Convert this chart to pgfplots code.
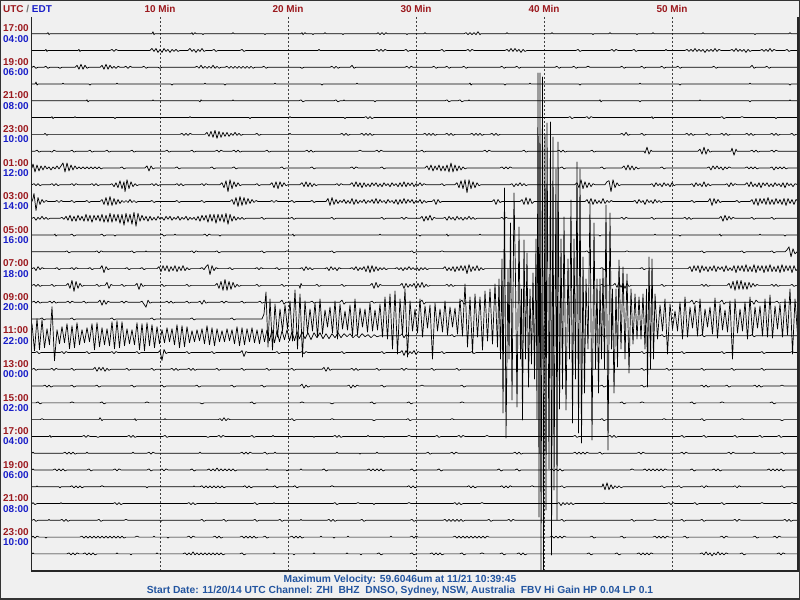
\documentclass[border=0pt]{standalone}
\usepackage{fontspec}
\setmainfont{Liberation Sans}
\usepackage{pgfplots}
\pgfplotsset{compat=1.18}
\definecolor{bgc}{RGB}{240,240,240}
\definecolor{utcred}{RGB}{155,25,30}
\definecolor{edtblue}{RGB}{25,30,200}
\definecolor{infoblue}{RGB}{35,85,160}
\newcommand{\tr}[2]{\addplot[black,line width=0.7bp,line join=round,mark=none] table[row sep=\\,y expr=\thisrowno{1}+33.7+16.78*#1]{#2\\};}
\tikzset{
 utcl/.style={font=\bfseries\fontsize{10}{10}\selectfont,text=utcred,anchor=base west,inner sep=0pt},
 edtl/.style={font=\bfseries\fontsize{10}{10}\selectfont,text=edtblue,anchor=base west,inner sep=0pt},
 minl/.style={font=\bfseries\fontsize{10}{10}\selectfont,text=utcred,anchor=base,inner sep=0pt},
 infol/.style={font=\bfseries\fontsize{10.3}{10}\selectfont,text=infoblue,anchor=base,inner sep=0pt},
 grd/.style={black!75,line width=0.8bp,dash pattern=on 2bp off 2bp}}
\begin{document}
\begin{tikzpicture}[x=1bp,y=1bp]
\useasboundingbox (0,0) rectangle (800,600);
\fill[bgc] (0,0) rectangle (800,600);
\begin{axis}[at={(0,0)},anchor=south west,scale only axis,width=800bp,height=600bp,
  xmin=0,xmax=800,ymin=0,ymax=600,y dir=reverse,hide axis]
\draw[grd] (160,17) -- (160,570);
\draw[grd] (288,17) -- (288,570);
\draw[grd] (416,17) -- (416,570);
\draw[grd] (544,17) -- (544,570);
\draw[grd] (672,17) -- (672,570);
% trace 0
\tr{0}{32 0\\47 0\\48 -1\\49 1\\50 0\\152 0\\153 -2\\154 1\\155 0\\191 0\\192 -1\\193 1\\195 -1\\196 0\\202 0\\203 1\\204 0\\232 0\\233 -1\\234 0\\264 0\\265 1\\266 0\\301 0\\302 -1\\303 1\\305 -1\\306 0\\312 0\\313 1\\314 0\\324 0\\325 -1\\326 0\\342 0\\343 1\\344 0\\377 0\\378 -1\\380 1\\382 -1\\384 1\\386 -1\\387 0\\406 0\\407 1\\408 0\\424 0\\425 -1\\426 0\\464 0\\466 -1\\468 1\\470 -1\\472 1\\474 -1\\476 1\\478 -2\\480 1\\481 0\\506 0\\507 -1\\508 0\\551 0\\552 -1\\553 0\\592 0\\593 1\\594 0\\609 0\\610 -1\\611 0\\636 0\\637 1\\638 0\\652 0\\653 -1\\654 0\\702 0\\703 -1\\704 0\\754 0\\755 1\\756 0\\789 0\\790 -1\\791 0\\798 0}
% trace 1
\tr{1}{32 0\\45 0\\46 -1\\47 1\\48 0\\78 0\\79 -1\\80 1\\81 0\\110 0\\112 -1\\114 1\\116 -1\\118 0\\150 0\\152 -2\\154 1\\156 -2\\158 2\\160 -1\\162 2\\164 -2\\166 1\\168 -1\\170 2\\172 -1\\174 1\\176 -1\\178 1\\180 0\\188 0\\190 -2\\192 1\\194 -1\\196 2\\198 -1\\200 1\\202 -2\\204 1\\206 0\\212 0\\214 -1\\216 1\\218 0\\240 0\\242 -1\\244 1\\246 0\\318 0\\319 -1\\320 0\\375 0\\377 -1\\379 1\\381 -1\\383 1\\385 -1\\387 0\\404 0\\406 -1\\408 1\\410 0\\440 0\\442 -1\\444 1\\446 0\\466 0\\468 -1\\470 1\\472 -1\\474 0\\505 0\\507 -1\\509 1\\511 -2\\513 1\\515 -2\\517 1\\519 -1\\521 2\\523 -1\\525 1\\527 0\\576 0\\578 -1\\580 1\\582 0\\610 0\\612 -1\\614 1\\616 -1\\618 0\\632 0\\634 -1\\636 1\\638 0\\665 0\\666 -1\\667 0\\685 0\\687 -1\\689 1\\691 -1\\693 1\\695 -2\\697 1\\699 -1\\701 1\\703 -1\\705 2\\707 -1\\709 1\\711 -1\\713 1\\715 -2\\717 1\\719 -1\\721 0\\730 0\\732 -1\\734 1\\736 -2\\738 1\\740 -1\\742 1\\744 -1\\746 2\\748 -1\\750 1\\752 0\\760 0\\762 -1\\764 1\\766 -1\\768 1\\770 -2\\772 1\\774 -1\\776 0\\785 0\\787 -1\\789 1\\791 0\\798 0}
% trace 2
\tr{2}{32 0\\34 -1\\36 1\\38 0\\44 0\\46 -1\\48 1\\50 0\\58 0\\60 1\\62 0\\75 0\\77 -2\\79 2\\81 -3\\83 2\\85 -2\\87 1\\89 0\\100 0\\102 -2\\104 2\\106 -3\\108 2\\110 -2\\112 1\\114 -1\\116 1\\118 -1\\120 0\\124 0\\126 -1\\128 1\\130 -1\\132 0\\142 0\\144 -1\\146 1\\148 0\\158 0\\160 1\\162 0\\195 0\\197 -1\\199 1\\201 -2\\203 1\\205 -1\\207 1\\209 -1\\211 1\\213 -2\\215 1\\217 -1\\219 1\\221 0\\225 0\\227 -1\\229 1\\231 -1\\233 1\\235 -1\\237 1\\239 -1\\241 1\\243 -1\\245 1\\247 -1\\249 1\\251 -1\\253 1\\255 0\\262 0\\264 -1\\266 1\\268 0\\300 0\\302 1\\304 0\\330 0\\332 -1\\334 1\\336 -1\\338 1\\340 0\\350 0\\352 -2\\354 1\\356 0\\405 0\\407 -1\\409 1\\411 -1\\413 0\\432 0\\434 -1\\436 1\\438 0\\445 0\\447 -1\\449 1\\451 0\\462 0\\464 -1\\466 1\\468 0\\500 0\\502 -1\\504 1\\506 0\\515 0\\517 -1\\519 1\\521 0\\555 0\\557 -1\\559 1\\561 0\\572 0\\574 -1\\576 1\\578 0\\586 0\\588 -1\\590 0\\620 0\\622 -1\\624 1\\626 0\\640 0\\642 -1\\644 1\\646 0\\660 0\\662 -1\\664 1\\666 0\\676 0\\678 -1\\680 1\\682 0\\712 0\\714 -1\\716 1\\718 0\\750 0\\752 -2\\754 1\\756 0\\765 0\\767 -1\\769 1\\771 0\\798 0}
% trace 3
\tr{3}{32 0\\35 0\\36 -2\\37 1\\38 0\\62 0\\63 -1\\64 0\\89 0\\90 1\\91 0\\116 0\\117 -1\\118 0\\171 0\\172 1\\173 0\\204 0\\205 -1\\206 0\\224 0\\225 1\\226 0\\274 0\\275 -1\\276 0\\321 0\\322 1\\323 0\\356 0\\357 -1\\358 0\\469 0\\470 -1\\471 1\\472 0\\504 0\\505 1\\506 0\\529 0\\530 -1\\531 0\\579 0\\580 1\\581 0\\639 0\\640 -1\\641 0\\679 0\\680 1\\681 0\\749 0\\750 -1\\751 0\\789 0\\790 1\\791 0\\798 0}
% trace 4
\tr{4}{32 0\\86 0\\87 -1\\88 1\\89 0\\152 0\\153 -1\\154 0\\199 0\\200 1\\201 -1\\202 0\\232 0\\233 -1\\234 0\\299 0\\301 -1\\303 1\\305 0\\334 0\\336 -1\\338 1\\340 0\\343 0\\344 -1\\345 0\\374 0\\375 1\\376 0\\445 0\\447 -1\\449 1\\451 0\\458 0\\460 -1\\462 1\\464 0\\468 0\\469 -1\\470 0\\599 0\\600 -1\\601 1\\602 0\\639 0\\640 1\\641 0\\699 0\\700 -1\\701 0\\749 0\\750 1\\751 0\\789 0\\790 -1\\791 0\\798 0}
% trace 5
\tr{5}{32 0\\51 0\\52 -1\\53 1\\54 0\\74 0\\75 -1\\76 0\\114 0\\115 1\\116 0\\189 0\\190 -1\\191 0\\249 0\\250 1\\251 0\\289 0\\290 -1\\291 0\\344 0\\345 1\\346 0\\364 0\\366 -1\\368 1\\370 -1\\372 1\\374 0\\568 0\\570 -1\\572 1\\574 0\\585 0\\587 -1\\589 1\\591 -1\\593 0\\651 0\\652 -1\\653 1\\654 0\\720 0\\722 -1\\724 1\\726 0\\740 0\\742 -1\\744 0\\775 0\\776 1\\777 0\\798 0}
% trace 6
\tr{6}{32 0\\44 0\\45 -1\\47 1\\48 0\\180 0\\182 -1\\184 1\\186 -1\\188 1\\190 -1\\192 0\\205 0\\207 -2\\209 2\\211 -3\\213 3\\215 -4\\217 4\\219 -3\\221 3\\223 -2\\225 2\\227 -2\\229 2\\231 -1\\233 1\\235 -2\\237 1\\239 -1\\241 1\\243 0\\255 0\\257 -1\\259 1\\261 0\\289 0\\290 -1\\291 0\\340 0\\342 -1\\344 1\\346 -1\\348 1\\350 0\\360 0\\362 -1\\364 1\\366 -1\\368 1\\370 -1\\372 1\\374 0\\423 0\\425 -1\\427 1\\429 -1\\431 1\\433 -1\\435 1\\437 0\\445 0\\447 -1\\449 1\\451 -1\\453 1\\455 0\\470 0\\472 -1\\474 1\\476 -1\\478 1\\480 -1\\482 1\\484 0\\490 0\\492 -1\\494 1\\496 -1\\498 1\\500 0\\620 0\\622 -1\\624 1\\626 -2\\628 1\\630 0\\640 0\\642 -1\\644 1\\646 0\\685 0\\687 -1\\689 1\\691 -1\\693 1\\695 0\\705 0\\707 -1\\709 1\\711 0\\720 0\\722 -1\\724 1\\726 -1\\728 1\\730 0\\745 0\\747 -1\\749 1\\751 -1\\753 1\\755 0\\770 0\\772 -1\\774 1\\776 -1\\778 1\\780 0\\790 0\\792 -1\\794 1\\796 0\\798 0}
% trace 7
\tr{7}{32 0\\35 0\\37 -1\\39 1\\41 0\\50 0\\52 1\\54 -1\\56 0\\70 0\\72 -1\\74 1\\76 0\\88 0\\90 -1\\92 1\\94 0\\105 0\\107 -1\\109 1\\111 0\\130 0\\132 -1\\134 1\\136 0\\165 0\\167 -1\\169 1\\171 0\\190 0\\192 -1\\194 1\\196 0\\215 0\\217 -1\\219 1\\221 -1\\223 0\\232 0\\234 -1\\236 1\\238 -1\\240 1\\242 0\\265 0\\267 -1\\269 1\\271 0\\305 0\\307 -1\\309 1\\311 -1\\313 1\\315 0\\358 0\\360 -1\\362 0\\375 0\\377 -1\\379 1\\381 -1\\383 0\\420 0\\422 -1\\424 1\\426 0\\483 0\\485 -1\\487 1\\489 -1\\491 0\\522 0\\524 -1\\526 1\\528 0\\557 0\\559 -1\\561 1\\563 -1\\565 1\\567 0\\590 0\\592 -1\\594 1\\596 0\\644 0\\645 2\\647 -4\\649 3\\651 -1\\652 0\\698 0\\700 -2\\702 3\\704 -4\\706 3\\708 -2\\710 1\\712 0\\731 0\\732 -3\\734 4\\736 -2\\737 0\\750 0\\752 -1\\754 1\\756 -1\\758 1\\760 0\\770 0\\772 -1\\774 1\\776 -1\\778 0\\798 0}
% trace 8
\tr{8}{32 0\\33 -4\\35 4\\37 -3\\39 3\\41 -2\\43 2\\45 -2\\47 1\\49 -1\\51 2\\53 -1\\55 1\\57 -2\\59 1\\61 -2\\63 -5\\65 4\\67 -5\\69 3\\71 -3\\73 2\\75 -2\\77 1\\79 -1\\81 1\\83 -1\\85 1\\87 -1\\89 1\\91 -1\\93 1\\95 -1\\97 1\\99 -1\\101 1\\103 0\\120 0\\122 -1\\124 1\\126 0\\145 0\\147 -2\\149 3\\151 -2\\153 1\\155 0\\175 0\\177 -1\\179 1\\181 0\\210 0\\212 -1\\214 1\\216 0\\232 0\\234 -1\\236 1\\238 0\\280 0\\282 -1\\284 1\\286 0\\310 0\\312 -1\\314 1\\316 0\\350 0\\352 -1\\354 1\\356 -1\\358 0\\380 0\\382 -1\\384 1\\386 0\\425 0\\427 -2\\429 2\\431 -3\\433 3\\435 -2\\437 2\\439 -3\\441 3\\443 -2\\445 3\\447 -3\\449 4\\451 -5\\453 4\\455 -3\\457 3\\459 -2\\461 2\\463 -1\\465 1\\467 0\\500 0\\502 -1\\504 1\\506 -1\\508 1\\510 -1\\512 0\\560 0\\562 -1\\564 1\\566 0\\600 0\\602 -1\\604 1\\606 0\\622 0\\624 -2\\626 2\\628 -3\\630 2\\632 -2\\634 2\\636 -1\\638 1\\640 0\\660 0\\662 -1\\664 1\\666 0\\707 0\\709 -1\\711 2\\713 -2\\715 1\\717 -2\\719 1\\721 -1\\723 2\\725 -1\\727 1\\729 -1\\731 0\\745 0\\747 -1\\749 1\\751 -1\\753 1\\755 -1\\757 1\\759 0\\770 0\\772 -1\\774 2\\776 -1\\778 1\\780 -1\\782 1\\784 -1\\786 1\\788 0\\798 0}
% trace 9
\tr{9}{32 0\\34 -1\\36 1\\38 -1\\40 1\\42 0\\50 0\\52 -1\\54 1\\56 -1\\58 1\\60 0\\70 0\\72 -1\\74 1\\76 -1\\78 0\\90 0\\92 -1\\94 1\\96 -1\\98 1\\100 0\\110 0\\112 -1\\114 2\\116 -2\\118 3\\120 -4\\122 4\\124 -3\\125 7\\127 -5\\129 4\\131 -3\\133 2\\135 -1\\137 1\\139 0\\150 0\\152 -1\\154 1\\156 -1\\158 1\\160 0\\175 0\\177 -1\\179 1\\181 -1\\183 1\\185 0\\200 0\\202 -1\\204 1\\206 -1\\208 0\\220 0\\222 -2\\224 3\\226 -4\\228 7\\230 -5\\232 4\\234 -3\\236 2\\238 -2\\240 1\\242 0\\255 0\\257 -1\\259 1\\261 0\\270 0\\272 -2\\274 3\\276 -3\\278 4\\280 -3\\282 2\\284 -2\\286 1\\288 0\\300 0\\302 -2\\304 2\\306 -3\\308 2\\310 -2\\312 2\\314 -1\\316 1\\318 0\\335 0\\337 -1\\339 1\\341 -1\\343 0\\350 0\\352 -2\\354 2\\356 -3\\358 2\\360 -2\\362 3\\364 -2\\366 2\\368 -1\\370 2\\372 -2\\374 1\\376 -2\\378 2\\380 -1\\382 2\\384 -2\\386 1\\388 -1\\390 2\\392 -2\\394 1\\396 -1\\398 2\\400 -2\\402 2\\404 -3\\406 2\\408 -2\\410 1\\412 -2\\414 2\\416 -1\\418 1\\420 -2\\422 1\\424 -1\\426 0\\440 0\\442 -1\\444 1\\446 0\\455 0\\457 -2\\459 3\\461 -4\\463 4\\465 -5\\467 8\\469 -5\\471 4\\473 -3\\475 3\\477 -2\\479 1\\481 0\\510 0\\512 -1\\514 2\\516 -1\\518 1\\520 -2\\522 1\\524 -1\\526 1\\528 0\\575 0\\577 -2\\579 3\\581 -5\\583 4\\585 -3\\587 3\\589 -2\\591 2\\593 -1\\595 0\\605 0\\607 -3\\609 -4\\611 7\\613 -5\\615 3\\617 -2\\619 1\\621 0\\650 0\\652 -1\\654 2\\656 -2\\658 1\\660 -1\\662 2\\664 -2\\666 1\\668 -1\\670 2\\672 -2\\674 1\\676 0\\690 0\\692 -1\\694 2\\696 -2\\698 1\\700 -1\\702 2\\704 -3\\706 2\\708 -1\\710 1\\712 0\\725 0\\727 -1\\729 2\\731 -2\\733 1\\735 -1\\737 0\\745 0\\747 -2\\749 2\\751 -3\\753 2\\755 -1\\757 2\\759 -2\\761 3\\763 -2\\765 1\\767 -2\\769 2\\771 -1\\773 2\\775 -2\\777 1\\779 -1\\781 2\\783 -2\\785 3\\787 -2\\789 1\\791 -1\\793 2\\795 -1\\798 0}
% trace 10
\tr{10}{32 0\\33 -3\\34 -8\\36 9\\38 -4\\40 3\\42 -2\\44 1\\46 -1\\48 0\\55 0\\57 -1\\59 1\\61 -1\\63 0\\70 0\\72 -1\\74 1\\76 0\\85 0\\87 -1\\89 1\\91 0\\100 0\\102 -2\\104 3\\106 -4\\108 4\\110 -5\\112 4\\114 -3\\116 3\\118 -2\\120 2\\122 -1\\124 1\\126 -1\\128 1\\130 -2\\132 1\\134 -1\\136 1\\138 0\\150 0\\152 -1\\154 1\\156 0\\175 0\\177 -1\\179 1\\181 0\\200 0\\202 -1\\204 1\\206 0\\230 0\\232 -2\\234 3\\236 -4\\238 5\\240 -5\\242 4\\244 -4\\246 3\\248 -3\\250 2\\252 -2\\254 1\\256 -1\\258 0\\270 0\\272 -1\\274 1\\276 -1\\278 0\\290 0\\292 -1\\294 1\\296 0\\310 0\\312 -1\\314 1\\316 0\\326 0\\328 -3\\330 4\\332 -4\\334 3\\336 -2\\338 2\\340 -1\\342 1\\344 -2\\346 2\\348 -1\\350 2\\352 -3\\354 3\\356 -2\\358 2\\360 -1\\362 1\\364 -2\\366 2\\368 -1\\370 1\\372 -2\\374 2\\376 -3\\378 2\\380 -2\\382 1\\384 -1\\386 2\\388 -2\\390 1\\392 -1\\394 2\\396 -2\\398 3\\400 -2\\402 2\\404 -3\\406 2\\408 -2\\410 1\\412 -2\\414 2\\416 -1\\418 1\\420 -2\\422 2\\424 -1\\426 1\\428 0\\432 0\\434 -2\\436 3\\438 -2\\440 1\\442 0\\492 0\\494 -2\\496 3\\498 -2\\500 1\\502 0\\520 0\\522 -2\\524 3\\526 -4\\528 3\\530 -3\\532 2\\534 0\\585 0\\587 -2\\589 2\\591 -3\\593 3\\595 -2\\597 2\\599 -1\\601 2\\603 -3\\605 2\\607 -1\\609 1\\611 -1\\613 0\\633 0\\635 -1\\637 2\\639 -2\\641 1\\643 -1\\645 3\\647 -2\\649 1\\651 -1\\653 2\\655 -2\\657 1\\659 -1\\661 1\\663 0\\690 0\\692 -1\\694 1\\696 0\\708 0\\710 -3\\712 4\\714 -3\\716 2\\718 -2\\720 1\\722 0\\735 0\\737 -1\\739 1\\741 0\\750 0\\752 -2\\754 3\\756 -3\\758 4\\760 -3\\762 2\\764 -3\\766 3\\768 -4\\770 3\\772 -2\\774 3\\776 -3\\778 2\\780 -2\\782 3\\784 -3\\786 4\\788 -3\\790 2\\792 -2\\794 3\\796 -2\\798 0}
% trace 11
\tr{11}{32 0\\34 -1\\36 2\\38 -1\\40 1\\42 -2\\44 1\\46 -1\\48 1\\50 0\\60 0\\62 -1\\64 1\\66 -2\\68 2\\70 -3\\72 3\\74 -2\\76 3\\78 -3\\80 2\\82 -2\\84 3\\86 -4\\88 3\\90 -3\\92 4\\94 -3\\96 2\\98 -3\\100 3\\102 -4\\104 4\\106 -3\\108 4\\110 -5\\112 4\\114 -4\\116 3\\118 -4\\120 5\\122 -4\\124 7\\126 -5\\128 4\\130 -4\\132 6\\134 -6\\136 8\\138 -5\\140 3\\142 -3\\144 2\\146 -2\\148 3\\150 -2\\152 2\\154 -1\\156 2\\158 -2\\160 1\\162 -1\\164 2\\166 -2\\168 1\\170 -2\\172 2\\174 -1\\176 1\\178 -2\\180 2\\182 -1\\184 1\\186 -2\\188 2\\190 -1\\192 1\\194 -1\\196 2\\198 -2\\200 3\\202 -3\\204 2\\206 -3\\208 4\\210 -4\\212 3\\214 -4\\216 5\\218 -4\\220 3\\222 -4\\224 4\\226 -5\\228 6\\230 -4\\232 3\\234 -2\\236 2\\238 -1\\240 1\\242 -1\\244 1\\246 0\\260 0\\262 -1\\264 1\\266 0\\290 0\\292 -1\\294 1\\296 0\\330 0\\332 -1\\334 1\\336 0\\380 0\\382 -1\\384 1\\386 0\\400 0\\402 -1\\404 1\\406 -1\\408 0\\420 0\\422 -2\\424 3\\426 -2\\428 2\\430 -3\\432 2\\434 -1\\436 0\\443 0\\445 -1\\447 2\\449 -2\\451 1\\453 -1\\455 2\\457 -2\\459 1\\461 -1\\463 2\\465 -1\\467 1\\469 -2\\471 1\\473 -1\\475 1\\477 0\\500 0\\502 -1\\504 1\\506 -1\\508 0\\620 0\\622 -1\\624 1\\626 -1\\628 0\\650 0\\652 -1\\654 1\\656 0\\683 0\\685 -1\\687 1\\689 -1\\691 1\\693 0\\719 0\\721 -2\\723 3\\725 -3\\727 2\\729 -2\\731 1\\733 -1\\735 0\\750 0\\752 -1\\754 1\\756 0\\770 0\\772 -1\\774 1\\776 0\\798 0}
% trace 12
\tr{12}{32 0\\54 0\\55 -1\\56 1\\57 0\\70 0\\72 -1\\74 1\\76 0\\100 0\\102 -1\\104 1\\106 0\\114 0\\115 1\\116 0\\160 0\\162 -1\\164 1\\166 0\\174 0\\175 -1\\176 0\\203 0\\205 -1\\207 1\\209 -1\\211 0\\219 0\\220 1\\221 0\\292 0\\293 -1\\294 1\\295 0\\379 0\\380 -1\\381 0\\419 0\\420 1\\421 0\\446 0\\447 -1\\448 1\\449 0\\479 0\\480 -1\\481 0\\599 0\\600 1\\601 0\\654 0\\655 -1\\656 0\\679 0\\680 1\\681 0\\719 0\\720 -1\\721 1\\722 0\\759 0\\760 -1\\761 0\\784 0\\785 1\\786 0\\798 0}
% trace 13
\tr{13}{32 0\\65 0\\67 -1\\69 1\\71 0\\95 0\\97 -1\\99 1\\101 -1\\103 0\\130 0\\132 -1\\134 1\\136 0\\145 0\\146 -1\\147 0\\190 0\\192 -1\\194 1\\196 -1\\198 0\\215 0\\217 -1\\219 1\\221 0\\260 0\\262 -1\\264 1\\266 0\\285 0\\287 -1\\289 0\\330 0\\332 -1\\334 1\\336 0\\410 0\\412 -1\\414 1\\416 0\\440 0\\442 -1\\444 0\\585 0\\587 -1\\589 1\\591 0\\625 0\\627 -1\\629 0\\700 0\\702 -1\\704 1\\706 0\\740 0\\742 -1\\744 1\\746 0\\770 0\\772 -1\\774 1\\776 0\\785 0\\787 -2\\789 -5\\791 5\\793 -3\\795 2\\797 0\\798 0}
% trace 14
\tr{14}{32 0\\34 -1\\36 2\\38 -2\\40 1\\42 -1\\44 0\\55 0\\57 -1\\59 1\\61 0\\70 0\\72 -1\\74 1\\76 -1\\78 0\\88 0\\90 -1\\92 1\\94 0\\100 0\\102 -3\\104 4\\106 -2\\108 1\\110 0\\125 0\\127 -1\\129 1\\131 0\\140 0\\142 -1\\144 1\\146 0\\157 0\\159 -2\\161 3\\163 -3\\165 2\\167 -3\\169 3\\171 -2\\173 2\\175 -3\\177 3\\179 -2\\181 2\\183 -3\\185 2\\187 -1\\189 1\\191 0\\200 0\\202 -1\\204 1\\206 -2\\208 -4\\210 6\\212 -3\\214 2\\216 -1\\218 0\\228 0\\230 -1\\232 1\\234 0\\255 0\\257 -1\\259 1\\261 -1\\263 0\\275 0\\277 -1\\279 1\\281 0\\300 0\\302 -1\\304 2\\306 -2\\308 1\\310 -1\\312 1\\314 0\\325 0\\327 -1\\329 2\\331 -2\\333 1\\335 -1\\337 2\\339 -1\\341 0\\350 0\\352 -1\\354 1\\356 -2\\358 2\\360 -1\\362 1\\364 -2\\366 3\\368 -3\\370 4\\372 -3\\374 3\\376 -2\\378 2\\380 -1\\382 1\\384 -1\\386 1\\388 0\\395 0\\397 -1\\399 1\\401 -1\\403 2\\405 -1\\407 1\\409 -2\\411 1\\413 -1\\415 1\\417 -1\\419 2\\421 -1\\423 1\\425 -1\\427 1\\429 0\\443 0\\445 -2\\447 2\\449 -1\\451 2\\453 -2\\455 3\\457 -2\\459 2\\461 -3\\463 2\\465 -3\\467 5\\469 -4\\471 3\\473 -2\\475 2\\477 -3\\479 2\\481 -1\\483 1\\485 0\\600 0\\602 -1\\604 1\\606 0\\640 0\\642 -1\\644 1\\646 0\\688 0\\690 -2\\692 3\\694 -3\\696 2\\698 -3\\700 4\\702 -3\\704 2\\706 -2\\708 3\\710 -2\\712 2\\714 -3\\716 3\\718 -2\\720 1\\722 -2\\724 3\\726 -3\\728 2\\730 -1\\732 2\\734 -3\\736 4\\738 -3\\740 2\\742 -3\\744 3\\746 -4\\748 3\\750 -2\\752 3\\754 -4\\756 4\\758 -3\\760 2\\762 -3\\764 4\\766 -3\\768 3\\770 -4\\772 3\\774 -2\\776 3\\778 -3\\780 4\\782 -4\\784 3\\786 -3\\788 2\\790 -3\\792 4\\794 -3\\796 2\\798 0}
% trace 15
\tr{15}{32 0\\34 -1\\36 1\\38 -1\\40 1\\42 0\\50 0\\52 -1\\54 1\\56 0\\66 0\\68 -2\\70 3\\72 -5\\74 6\\76 -4\\78 3\\80 -2\\82 1\\84 0\\95 0\\97 -1\\99 1\\101 0\\105 0\\107 -3\\109 3\\111 -1\\113 0\\120 0\\122 -1\\124 1\\126 0\\135 0\\137 -2\\139 4\\141 -2\\143 1\\145 0\\160 0\\162 -1\\164 1\\166 0\\185 0\\187 -1\\189 1\\191 0\\215 0\\217 -2\\219 3\\221 -4\\223 5\\225 -6\\227 5\\229 -4\\231 4\\233 -3\\235 2\\237 -1\\239 1\\241 0\\255 0\\257 -1\\259 1\\261 0\\280 0\\282 -1\\284 1\\286 0\\299 0\\300 3\\301 -2\\302 0\\315 0\\317 -1\\319 1\\321 0\\340 0\\342 -1\\344 1\\346 0\\370 0\\372 -2\\374 3\\376 -3\\378 2\\380 -1\\382 0\\400 0\\402 -2\\404 3\\406 -2\\408 2\\410 -1\\412 1\\414 -2\\416 3\\418 -2\\420 2\\422 -3\\424 2\\426 -1\\428 1\\430 0\\445 0\\447 -1\\449 1\\451 -1\\453 1\\455 0\\600 0\\602 -1\\604 1\\606 0\\613 0\\615 -2\\617 2\\619 -3\\621 2\\623 -2\\625 3\\627 -2\\629 1\\631 0\\660 0\\662 -1\\664 1\\666 0\\700 0\\702 -1\\704 1\\706 -1\\708 1\\710 0\\727 0\\729 -2\\731 3\\733 -4\\735 5\\737 -5\\739 4\\741 -5\\743 4\\745 -3\\747 4\\749 -3\\751 2\\753 -2\\755 1\\757 -1\\759 0\\770 0\\772 -1\\774 1\\776 -1\\778 1\\780 0\\790 0\\792 -1\\794 1\\796 0\\798 0}
% trace 16
\tr{16}{32 0\\34 -1\\36 1\\38 -1\\40 1\\42 0\\48 0\\50 -1\\52 1\\54 -1\\56 1\\58 0\\66 0\\68 -1\\70 1\\72 -1\\74 0\\82 0\\84 -1\\86 1\\88 0\\98 0\\100 -2\\102 3\\104 -2\\106 2\\108 -1\\110 0\\120 0\\122 -1\\124 1\\126 -1\\128 0\\140 0\\142 -1\\144 2\\146 5\\148 -2\\150 1\\152 0\\165 0\\167 -1\\169 1\\171 -1\\173 1\\175 0\\185 0\\187 -1\\189 1\\191 0\\198 0\\200 -1\\202 2\\204 -2\\206 1\\208 0\\220 0\\222 -1\\224 1\\226 -1\\228 0\\240 0\\242 -1\\244 1\\246 0\\258 0\\260 -1\\262 1\\264 0\\280 0\\282 -2\\284 2\\286 0\\310 0\\312 -1\\314 1\\316 0\\340 0\\342 -2\\344 2\\346 0\\370 0\\372 -1\\374 1\\376 0\\420 0\\422 -2\\424 2\\426 0\\460 0\\462 -2\\464 2\\466 0\\690 0\\692 -2\\694 2\\696 -1\\698 0\\720 0\\722 -2\\724 2\\726 0\\750 0\\752 -1\\754 2\\756 -2\\758 0\\775 0\\777 -1\\779 1\\781 0\\798 0}
% trace 17 (event)
\tr{17}{32 0\\40 0\\42 -1\\44 1\\46 0\\70 0\\72 -1\\74 1\\76 0\\110 0\\112 -1\\114 1\\116 0\\150 0\\152 -1\\154 1\\156 0\\190 0\\192 -1\\194 1\\196 0\\230 0\\232 -1\\234 1\\236 0\\262 0\\264 -5\\266 -27\\268 28\\270 -20\\272.5 31\\275 -15\\277.5 18\\280 -10\\282.5 12\\285 -14\\287.5 10\\290 -18\\292.5 22\\295 -29\\297.5 30\\300 -25\\302.5 38\\305 -18\\307.5 14\\310 -10\\312.5 12\\315 -16\\317.5 18\\320 -20\\322.5 15\\325 -9\\327.5 8\\330 -12\\332.5 14\\335 -18\\337.5 20\\340 -15\\342.5 10\\345 -8\\347.5 11\\350 -14\\352.5 17\\355 -20\\357.5 16\\360 -11\\362.5 8\\365 -10\\367.5 13\\370 -16\\372.5 12\\375 -9\\377.5 11\\380 -15\\382.5 18\\385 -22\\387.5 20\\390 -25\\392.5 30\\395 -28\\397.5 35\\400 -20\\402.5 16\\405 -30\\407.5 38\\410 -18\\412.5 12\\415 -10\\417.5 14\\420 -20\\422.5 18\\425 -13\\427.5 9\\430 -14\\432.5 40\\435 -16\\437.5 12\\440 -10\\442.5 13\\445 -18\\447.5 16\\450 -12\\452.5 8\\455 -11\\457.5 15\\460 -20\\462.5 17\\465 -35\\467.5 28\\470 -22\\472.5 34\\475 -25\\477.5 18\\480 -22\\482.5 31\\485 -28\\487.5 22\\490 -30\\492.5 25\\495 -35\\497.5 28\\499 -40\\500.5 40\\502 -60\\503 94\\504.5 -131\\506 119\\508 -50\\509 40\\510.5 -96\\512 81\\514 -126\\515.5 -40\\517 88\\519 -92\\520.5 40\\521.5 -30\\522.5 101\\524 -79\\525.5 40\\527 -66\\528.5 68\\530 -30\\531.5 45\\533 -46\\534.5 60\\536 -80\\537 100\\538 -246\\539 198\\540 -246\\541 251\\542.5 -242\\543.5 251\\545 -184\\546 191\\547 -196\\549 150\\550.5 -197\\551.5 236\\553 -182\\554 171\\556 -150\\557 201\\558 -177\\559.5 90\\561 -80\\562.5 70\\564 -102\\566 91\\568 -60\\569.5 40\\571 -119\\572.5 104\\574 -80\\575.5 60\\577 -157\\578.5 114\\580 -150\\581.5 124\\583 -62\\584.5 74\\586 -40\\588 30\\590 -116\\592 121\\594 -96\\595.5 50\\597 -40\\598.5 74\\600 -40\\601.5 40\\603 -50\\604.5 50\\606 -114\\608 131\\610 -106\\611.5 30\\612.5 -30\\614 74\\616 -30\\617.5 48\\619 -59\\621 30\\623 -52\\625 40\\627 -45\\629 54\\631 -30\\633 25\\635 -25\\637 20\\639 -22\\641 20\\643 -25\\645 30\\646.5 -30\\647.5 68\\649 -62\\650.5 50\\652 -60\\653.5 40\\655 -25\\657.5 20\\660 -14\\662.5 12\\665 -20\\667.5 35\\670 -15\\672.5 10\\675 -8\\677.5 12\\680 -17\\682.5 20\\685 -22\\687.5 18\\690 -12\\692.5 9\\695 -14\\697.5 17\\700 -20\\702.5 16\\705 -10\\707.5 8\\710 -12\\712.5 15\\715 -21\\717.5 19\\720 -15\\722.5 11\\725 -9\\727.5 13\\730 -18\\732.5 40\\735 -20\\737.5 14\\740 -10\\742.5 12\\745 -17\\747.5 20\\750 -22\\752.5 16\\755 -12\\757.5 9\\760 -13\\762.5 17\\765 -20\\767.5 18\\770 -24\\772.5 19\\775 -13\\777.5 10\\780 -15\\782.5 18\\785 -20\\787.5 16\\790 -30\\792.5 35\\795 -20\\797.5 15\\798 0}
% trace 18
\tr{18}{32 -12\\34.5 15\\37 -17\\39.5 14\\42 -16\\44.5 12\\47 -7\\49.5 9\\52 -29\\54.5 25\\57 -6\\59.5 8\\62 -9\\64.5 7\\67 -12\\69.5 13\\72 -10\\74.5 12\\77 -13\\79.5 9\\82 -6\\84.5 7\\87 -8\\89.5 6\\92 -12\\94.5 14\\97 -13\\99.5 11\\102 -8\\104.5 9\\107 -7\\109.5 10\\112 -14\\114.5 13\\117 -15\\119.5 12\\122 -14\\124.5 10\\127 -7\\129.5 8\\132 -6\\134.5 9\\137 -13\\139.5 14\\142 -12\\144.5 15\\147 -13\\149.5 10\\152 -11\\154.5 12\\157 -9\\159.5 8\\162 -6\\164.5 7\\167 -8\\169.5 6\\172 -7\\174.5 9\\177 -11\\179.5 12\\182 -10\\184.5 11\\187 -9\\189.5 7\\192 -5\\194.5 6\\197 -6\\199.5 5\\202 -7\\204.5 8\\207 -10\\209.5 9\\212 -8\\214.5 10\\217 -7\\219.5 6\\222 -5\\224.5 6\\227 -7\\229.5 5\\232 -6\\234.5 8\\237 -9\\239.5 10\\242 -8\\244.5 9\\247 -7\\249.5 6\\252 -8\\254.5 7\\257 -6\\259.5 8\\262 -7\\264.5 6\\267 -6\\269.5 5\\272 -6\\274.5 7\\277 -5\\279.5 6\\282 -5\\284.5 4\\287 -6\\289.5 5\\292 -4\\294.5 5\\297 -4\\299.5 3\\302 -4\\305 3\\308 -3\\311 4\\314 -3\\317 2\\320 -3\\323 3\\326 -2\\329 3\\332 -2\\335 2\\338 -3\\341 2\\344 -2\\347 1\\350 -2\\353 2\\356 -1\\359 2\\362 -2\\365 1\\368 -1\\371 2\\374 -1\\377 1\\380 0\\400 0\\402 -2\\404 2\\406 -1\\408 0\\450 0\\452 -1\\454 1\\456 0\\600 0\\602 -1\\604 1\\606 0\\660 0\\662 -1\\664 1\\666 0\\700 0\\702 -1\\704 1\\706 0\\750 0\\752 -1\\754 1\\756 0\\798 0}
% trace 19
\tr{19}{32 0\\35 0\\37 -1\\39 1\\41 0\\60 0\\62 -1\\64 1\\66 -1\\68 0\\85 0\\87 -1\\89 1\\91 0\\110 0\\112 -1\\114 1\\116 -1\\118 0\\135 0\\137 -1\\139 1\\141 0\\158 0\\160 -2\\162 8\\164 -3\\166 1\\168 0\\185 0\\187 -1\\189 1\\191 0\\210 0\\212 -1\\214 1\\216 0\\240 0\\242 -2\\244 4\\246 -1\\248 0\\275 0\\277 -1\\279 1\\281 0\\300 0\\302 -1\\304 1\\306 -1\\308 0\\340 0\\342 -1\\344 1\\346 0\\380 0\\382 -1\\384 1\\386 0\\400 0\\402 -2\\404 3\\406 -2\\408 2\\410 -1\\412 1\\414 -2\\416 2\\418 -1\\420 0\\440 0\\442 -1\\444 1\\446 0\\470 0\\472 -1\\474 1\\476 0\\640 0\\642 -1\\644 1\\646 0\\680 0\\682 -1\\684 1\\686 0\\720 0\\722 -1\\724 1\\726 0\\760 0\\762 -1\\764 1\\766 0\\790 0\\792 -1\\794 0\\798 0}
% trace 20
\tr{20}{32 0\\34 -1\\36 1\\38 0\\50 0\\52 -1\\54 1\\56 -1\\58 0\\70 0\\72 -1\\74 1\\76 0\\93 0\\95 -2\\97 2\\99 -2\\101 1\\103 -2\\105 2\\107 -1\\109 1\\111 0\\125 0\\127 -1\\129 1\\131 0\\150 0\\152 -1\\154 1\\156 0\\170 0\\172 -1\\174 1\\176 -1\\178 1\\180 0\\187 0\\189 -1\\191 1\\193 -1\\195 1\\197 0\\215 0\\217 -1\\219 1\\221 0\\240 0\\242 -1\\244 1\\246 0\\265 0\\267 -1\\269 1\\271 0\\290 0\\292 -1\\294 1\\296 0\\322 0\\324 -2\\326 2\\328 -2\\330 1\\332 0\\350 0\\352 -1\\354 1\\356 -1\\358 1\\360 0\\375 0\\377 -1\\379 1\\381 0\\400 0\\402 -1\\404 1\\406 -1\\408 0\\430 0\\432 -1\\434 1\\436 0\\455 0\\457 -1\\459 1\\461 0\\640 0\\642 -1\\644 1\\646 0\\665 0\\667 -1\\669 1\\671 0\\700 0\\702 -1\\704 1\\706 0\\730 0\\732 -1\\734 1\\736 0\\760 0\\762 -1\\764 1\\766 0\\798 0}
% trace 21
\tr{21}{32 0\\43 0\\45 -1\\47 1\\49 -1\\51 1\\53 0\\70 0\\72 -1\\74 1\\76 0\\95 0\\97 -1\\99 1\\101 0\\130 0\\132 -1\\134 1\\136 0\\160 0\\162 -1\\164 1\\166 0\\195 0\\197 -1\\199 1\\201 0\\230 0\\232 -1\\234 1\\236 0\\260 0\\262 -1\\264 1\\266 0\\300 0\\302 -2\\304 2\\306 -1\\308 1\\310 0\\347 0\\349 -1\\351 2\\353 -1\\355 1\\357 -1\\359 0\\380 0\\382 -1\\384 1\\386 0\\420 0\\422 -1\\424 0\\460 0\\462 -1\\464 1\\466 0\\600 0\\602 -1\\604 1\\606 0\\640 0\\642 -1\\644 1\\646 0\\700 0\\702 -1\\704 1\\706 -1\\708 1\\710 0\\725 0\\727 -1\\729 1\\731 0\\753 0\\755 -1\\757 1\\759 -1\\761 1\\763 0\\780 0\\782 -1\\784 0\\798 0}
% trace 22
\tr{22}{32 0\\36 0\\38 -1\\40 1\\42 0\\70 0\\72 -1\\74 0\\100 0\\102 -1\\104 1\\106 0\\145 0\\147 -1\\149 0\\200 0\\202 1\\204 0\\250 0\\252 -1\\254 1\\256 0\\300 0\\302 -1\\304 0\\330 0\\332 1\\334 0\\370 0\\372 -1\\374 1\\376 0\\407 0\\409 -1\\411 1\\413 0\\460 0\\462 -1\\464 0\\620 0\\622 -1\\624 1\\626 0\\640 0\\642 -1\\644 0\\690 0\\692 -1\\694 1\\696 0\\720 0\\722 -1\\724 0\\770 0\\772 -1\\774 1\\776 0\\798 0}
% trace 23
\tr{23}{32 0\\40 0\\42 -1\\44 0\\99 0\\100 -2\\102 1\\103 0\\134 0\\135 -1\\136 1\\137 0\\164 0\\165 -1\\166 0\\218 0\\220 -1\\222 1\\224 -2\\226 1\\228 -1\\230 0\\290 0\\292 -1\\294 1\\296 0\\330 0\\332 -1\\334 0\\372 0\\374 1\\376 0\\406 0\\408 -1\\410 1\\412 0\\450 0\\452 -1\\454 0\\600 0\\602 -1\\604 1\\606 0\\662 0\\664 -1\\666 0\\700 0\\702 -1\\704 1\\706 0\\740 0\\742 -1\\744 0\\780 0\\782 1\\784 0\\798 0}
% trace 24
\tr{24}{32 0\\49 0\\50 -1\\51 1\\52 0\\82 0\\84 -1\\86 1\\88 -1\\90 0\\96 0\\98 1\\100 0\\127 0\\129 -1\\131 1\\133 -1\\135 1\\137 0\\163 0\\165 -1\\167 1\\169 0\\206 0\\208 1\\210 0\\217 0\\219 -1\\221 1\\223 -1\\225 0\\250 0\\252 -1\\254 1\\256 0\\272 0\\273 -1\\274 0\\313 0\\314 1\\315 0\\333 0\\335 -1\\337 1\\339 -1\\341 1\\343 0\\367 0\\368 -1\\369 0\\383 0\\384 1\\385 0\\407 0\\409 -1\\411 0\\435 0\\437 -1\\439 1\\441 0\\457 0\\459 -1\\461 1\\463 -1\\465 0\\485 0\\487 -1\\489 0\\573 0\\575 -1\\577 1\\579 0\\608 0\\610 -1\\612 1\\614 -1\\616 1\\618 0\\680 0\\682 -1\\684 1\\686 0\\702 0\\704 -1\\706 1\\708 0\\733 0\\735 -1\\737 1\\739 0\\758 0\\760 -1\\762 1\\764 0\\777 0\\779 -1\\781 1\\783 0\\798 0}
% trace 25
\tr{25}{32 0\\33 -1\\34 0\\63 0\\65 -1\\67 1\\69 -1\\71 1\\73 -1\\75 1\\77 0\\86 0\\87 -1\\88 0\\132 0\\133 -1\\134 0\\147 0\\149 -1\\151 1\\153 -1\\155 0\\199 0\\200 -1\\201 0\\240 0\\242 -1\\244 1\\246 -1\\248 1\\250 -1\\252 0\\263 0\\265 -1\\267 1\\269 0\\274 0\\275 -1\\276 0\\336 0\\337 -1\\338 0\\359 0\\360 1\\361 0\\376 0\\377 -1\\378 0\\426 0\\428 -1\\430 1\\432 0\\450 0\\452 -1\\454 1\\456 -1\\458 0\\513 0\\515 -1\\517 1\\519 -1\\521 1\\523 0\\573 0\\575 -1\\577 1\\579 -1\\581 1\\583 -1\\585 1\\587 -1\\589 0\\598 0\\600 -1\\602 1\\604 0\\637 0\\639 -1\\641 1\\643 -1\\645 0\\680 0\\682 -1\\684 1\\686 -1\\688 0\\727 0\\729 -1\\731 1\\733 -1\\735 0\\753 0\\754 -1\\755 0\\780 0\\782 -1\\784 1\\786 0\\798 0}
% trace 26
\tr{26}{32 0\\33 -1\\34 0\\53 0\\55 -1\\57 1\\59 -1\\61 1\\63 -1\\65 1\\67 0\\87 0\\89 -1\\91 1\\93 0\\113 0\\115 -1\\117 1\\119 -1\\121 0\\147 0\\149 -1\\151 1\\153 0\\160 0\\162 -1\\164 1\\166 -1\\168 0\\190 0\\192 -1\\194 1\\196 0\\207 0\\209 -1\\211 1\\213 -1\\215 1\\217 -2\\219 1\\221 -1\\223 1\\225 -1\\227 1\\229 -1\\231 1\\233 -1\\235 1\\237 0\\266 0\\267 -1\\268 0\\286 0\\287 1\\288 0\\300 0\\301 -1\\302 0\\322 0\\324 -1\\326 1\\328 0\\367 0\\369 -1\\371 1\\373 -1\\375 1\\377 -1\\379 1\\381 -1\\383 1\\385 0\\410 0\\412 -1\\414 1\\416 0\\437 0\\439 -1\\441 1\\443 0\\497 0\\499 -1\\501 1\\503 0\\515 0\\517 -1\\519 1\\521 0\\550 0\\552 -1\\554 1\\556 -1\\558 1\\560 -1\\562 1\\564 0\\630 0\\632 -1\\634 0\\643 0\\645 -1\\647 1\\649 -1\\651 1\\653 -1\\655 1\\657 -1\\659 1\\661 -1\\663 1\\665 -1\\667 0\\690 0\\692 -1\\694 1\\696 0\\712 0\\714 -1\\716 1\\718 -1\\720 1\\722 0\\767 0\\769 -1\\771 1\\773 -1\\775 1\\777 -1\\779 1\\781 -1\\783 1\\785 0\\798 0}
% trace 27
\tr{27}{32 0\\36 0\\37 -1\\38 0\\59 0\\60 1\\61 0\\70 0\\72 -1\\74 1\\76 -1\\78 1\\80 -1\\82 1\\84 0\\100 0\\102 -1\\104 0\\146 0\\147 1\\148 0\\193 0\\194 -1\\195 0\\200 0\\202 -1\\204 1\\206 -1\\208 1\\210 -1\\212 1\\214 -1\\216 1\\218 -1\\220 1\\222 -1\\224 1\\226 0\\243 0\\245 -1\\247 1\\249 -1\\251 1\\253 0\\273 0\\275 -1\\277 1\\279 0\\293 0\\295 -1\\297 1\\299 0\\330 0\\332 -1\\334 0\\407 0\\409 -1\\411 1\\413 -1\\415 1\\417 0\\467 0\\469 -1\\471 1\\473 -1\\475 1\\477 0\\500 0\\502 -1\\504 1\\506 -1\\508 1\\510 -1\\512 0\\530 0\\532 -1\\534 0\\560 0\\562 -1\\564 1\\566 0\\602 0\\603 -3\\605 3\\607 -4\\609 3\\611 -2\\613 2\\615 -1\\617 1\\619 -1\\621 1\\623 0\\660 0\\662 -1\\664 1\\666 0\\677 0\\679 -1\\681 1\\683 0\\700 0\\702 -1\\704 1\\706 -1\\708 0\\733 0\\735 -1\\737 1\\739 -1\\741 0\\780 0\\782 -1\\784 1\\786 0\\798 0}
% trace 28
\tr{28}{32 0\\33 -1\\35 1\\37 0\\60 0\\61 -1\\62 0\\113 0\\115 -1\\117 1\\119 -1\\121 1\\123 0\\187 0\\189 -1\\191 1\\193 -1\\195 1\\197 0\\215 0\\216 -1\\217 0\\253 0\\255 -1\\257 1\\259 0\\273 0\\274 -1\\275 0\\333 0\\335 -1\\337 1\\339 0\\356 0\\358 -1\\360 0\\373 0\\374 1\\375 0\\407 0\\409 -1\\411 0\\453 0\\455 -1\\457 1\\459 -1\\461 1\\463 0\\480 0\\482 -1\\484 0\\557 0\\559 -1\\561 2\\563 -1\\565 1\\567 -1\\569 1\\571 -1\\573 1\\575 0\\603 0\\604 -1\\605 0\\667 0\\669 -1\\671 1\\673 -1\\675 0\\693 0\\695 -1\\697 1\\699 0\\720 0\\722 -1\\724 1\\726 0\\760 0\\762 -1\\764 0\\790 0\\792 -1\\794 0\\798 0}
% trace 29
\tr{29}{32 0\\34 -1\\36 1\\38 0\\48 0\\49 -1\\50 0\\60 0\\62 -1\\64 1\\66 -1\\68 1\\70 0\\97 0\\99 -1\\101 1\\103 0\\124 0\\126 -1\\128 0\\160 0\\161 1\\162 0\\200 0\\202 -1\\204 1\\206 0\\222 0\\224 -1\\226 1\\228 0\\253 0\\255 -1\\257 1\\259 0\\278 0\\280 -1\\282 1\\284 0\\300 0\\301 -1\\302 0\\327 0\\329 -1\\331 1\\333 -1\\335 1\\337 0\\360 0\\362 -1\\364 1\\366 0\\410 0\\412 -1\\414 1\\416 0\\443 0\\445 -1\\447 1\\449 -1\\451 1\\453 -1\\455 1\\457 -1\\459 1\\461 -1\\463 1\\465 0\\487 0\\489 -1\\491 1\\493 0\\507 0\\509 -1\\511 1\\513 -1\\515 0\\560 0\\562 -1\\564 1\\566 0\\630 0\\632 -1\\634 1\\636 0\\653 0\\655 -1\\657 0\\680 0\\682 -1\\684 1\\686 0\\700 0\\702 -1\\704 1\\706 0\\733 0\\735 -1\\737 1\\739 -1\\741 0\\783 0\\785 -1\\787 1\\789 -1\\791 1\\793 0\\798 0}
% trace 30
\tr{30}{32 0\\33 -1\\35 1\\37 -1\\39 0\\45 0\\46 1\\47 0\\80 0\\82 -1\\84 1\\86 -1\\88 1\\90 -1\\92 1\\94 -1\\96 1\\98 -1\\100 1\\102 -1\\104 1\\106 -1\\108 1\\110 -1\\112 1\\114 -1\\116 1\\118 -1\\120 1\\122 -1\\124 1\\126 0\\135 0\\137 -1\\139 0\\153 0\\154 -1\\155 0\\167 0\\168 1\\169 0\\187 0\\189 -1\\191 1\\193 -1\\195 0\\213 0\\215 -1\\217 1\\219 -1\\221 1\\223 0\\240 0\\242 -1\\244 1\\246 -1\\248 1\\250 -1\\252 1\\254 -1\\256 1\\258 0\\263 0\\265 -1\\267 1\\269 0\\290 0\\292 -1\\294 1\\296 -1\\298 1\\300 -1\\302 1\\304 0\\320 0\\321 -1\\322 0\\333 0\\334 1\\335 0\\347 0\\348 -1\\349 0\\390 0\\391 -1\\392 0\\410 0\\412 -1\\414 1\\416 -1\\418 0\\453 0\\455 -1\\457 1\\459 -1\\461 1\\463 -1\\465 1\\467 -1\\469 1\\471 -1\\473 1\\475 -1\\477 1\\479 -1\\481 1\\483 -1\\485 1\\487 -1\\489 0\\550 0\\552 -1\\554 1\\556 -1\\558 1\\560 -1\\562 1\\564 -1\\566 0\\590 0\\592 -1\\594 1\\596 0\\620 0\\622 -1\\624 1\\626 0\\653 0\\655 -1\\657 1\\659 -1\\661 1\\663 -1\\665 1\\667 -1\\669 0\\683 0\\685 -1\\687 1\\689 0\\720 0\\722 -1\\724 1\\726 -1\\728 0\\753 0\\755 -1\\757 1\\759 0\\773 0\\775 -1\\777 1\\779 -1\\781 0\\798 0}
% trace 31
\tr{31}{32 0\\33 -1\\34 0\\67 0\\69 -1\\71 1\\73 -1\\75 1\\77 -1\\79 0\\83 0\\85 -1\\87 1\\89 -1\\91 1\\93 -1\\95 1\\97 0\\116 0\\117 -1\\118 0\\130 0\\131 1\\132 0\\156 0\\157 -1\\158 0\\183 0\\185 -1\\187 1\\189 -1\\191 1\\193 -2\\195 1\\197 -1\\199 1\\201 -1\\203 1\\205 -1\\207 1\\209 -1\\211 1\\213 -1\\215 1\\217 -1\\219 1\\221 -1\\223 1\\225 0\\240 0\\242 -1\\244 1\\246 0\\273 0\\274 -1\\275 0\\293 0\\294 1\\295 0\\313 0\\314 -1\\315 0\\346 0\\347 -1\\348 0\\360 0\\361 1\\362 0\\377 0\\379 -1\\381 1\\383 0\\410 0\\412 -1\\414 1\\416 0\\430 0\\432 -1\\434 1\\436 -1\\438 1\\440 -1\\442 1\\444 0\\460 0\\462 -1\\464 1\\466 0\\480 0\\482 -1\\484 0\\500 0\\502 -1\\504 1\\506 0\\517 0\\519 -1\\521 1\\523 -1\\525 1\\527 0\\587 0\\589 -1\\591 1\\593 0\\615 0\\617 -1\\619 1\\621 0\\637 0\\639 -1\\641 1\\643 -1\\645 1\\647 -1\\649 1\\651 -1\\653 0\\700 0\\702 -1\\704 1\\706 -2\\708 1\\710 -1\\712 2\\714 -1\\716 1\\718 -2\\720 1\\722 -1\\724 1\\726 -1\\728 0\\740 0\\742 -1\\744 1\\746 0\\777 0\\779 -1\\781 1\\783 -1\\785 0\\798 0}
% frame
\draw[black!85,line width=1.6bp] (31.5,17) -- (31.5,570.7) -- (797.7,570.7) -- (797.7,17);
% header
\node[anchor=base west,inner sep=0pt,font=\bfseries\fontsize{10}{10}\selectfont] at (3,12.5) {\textcolor{utcred}{UTC} \textcolor{black!55}{/} \textcolor{edtblue}{EDT}};
\node[minl] at (160,12.5) {10 Min};
\node[minl] at (288,12.5) {20 Min};
\node[minl] at (416,12.5) {30 Min};
\node[minl] at (544,12.5) {40 Min};
\node[minl] at (672,12.5) {50 Min};
% hour labels
\node[utcl] at (3,31.9) {17:00};\node[edtl] at (3,42.2) {04:00};
\node[utcl] at (3,65.5) {19:00};\node[edtl] at (3,75.8) {06:00};
\node[utcl] at (3,99.0) {21:00};\node[edtl] at (3,109.3) {08:00};
\node[utcl] at (3,132.6) {23:00};\node[edtl] at (3,142.9) {10:00};
\node[utcl] at (3,166.1) {01:00};\node[edtl] at (3,176.4) {12:00};
\node[utcl] at (3,199.7) {03:00};\node[edtl] at (3,210.0) {14:00};
\node[utcl] at (3,233.3) {05:00};\node[edtl] at (3,243.6) {16:00};
\node[utcl] at (3,266.8) {07:00};\node[edtl] at (3,277.1) {18:00};
\node[utcl] at (3,300.4) {09:00};\node[edtl] at (3,310.7) {20:00};
\node[utcl] at (3,333.9) {11:00};\node[edtl] at (3,344.2) {22:00};
\node[utcl] at (3,367.5) {13:00};\node[edtl] at (3,377.8) {00:00};
\node[utcl] at (3,401.1) {15:00};\node[edtl] at (3,411.4) {02:00};
\node[utcl] at (3,434.6) {17:00};\node[edtl] at (3,444.9) {04:00};
\node[utcl] at (3,468.2) {19:00};\node[edtl] at (3,478.5) {06:00};
\node[utcl] at (3,501.7) {21:00};\node[edtl] at (3,512.0) {08:00};
\node[utcl] at (3,535.3) {23:00};\node[edtl] at (3,545.6) {10:00};
% footer
\node[infol] at (400,582.5) {Maximum Velocity: 59.6046um at 11/21 10:39:45};
\node[infol] at (400,593.5) {Start Date: 11/20/14 UTC Channel: ZHI\ \ BHZ\ \ DNSO, Sydney, NSW, Australia\ \ FBV Hi Gain HP 0.04 LP 0.1};
\end{axis}
\draw[black!80,line width=1.5bp] (0.75,0.75) rectangle (799.25,599.25);
\end{tikzpicture}
\end{document}
